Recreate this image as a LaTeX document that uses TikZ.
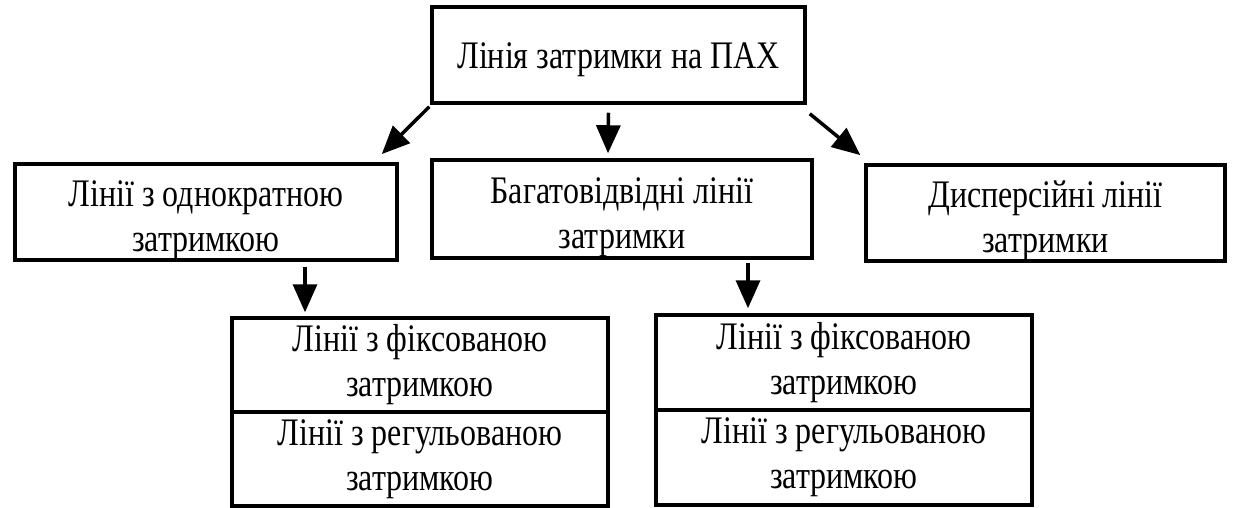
\documentclass[tikz,border=0pt]{standalone}
\usepackage{fontspec}
\setmainfont{Liberation Serif}
\newfontfamily\condserif[FakeStretch=0.82]{Liberation Serif}
\usetikzlibrary{arrows.meta,calc}
\newcommand{\lowerstrut}[1]{\rule{0pt}{#1}}
\begin{document}
\begin{tikzpicture}[x=1pt,y=-1pt,
  box/.style={draw,line width=3.5pt,align=center,inner sep=0pt,font=\condserif\fontsize{39}{45}\selectfont},
  arr/.style={line width=3.5pt,-{Triangle[length=28pt,width=24pt]}}]
\useasboundingbox (0,0) rectangle (1238,508);
\node[box,minimum width=373pt,minimum height=96pt] (top) at (618.5,55) {\lowerstrut{36pt}Лінія затримки на ПАХ};
\node[box,minimum width=382pt,minimum height=92pt] (left) at (206,212) {\lowerstrut{43pt}Лінії з однократною\\затримкою};
\node[box,minimum width=380pt,minimum height=98pt] (mid) at (622,209) {\lowerstrut{43pt}Багатовідвідні лінії\\затримки};
\node[box,minimum width=359pt,minimum height=94pt] (right) at (1045.5,213) {\lowerstrut{43pt}Дисперсійні лінії\\затримки};
\node[box,minimum width=376pt,minimum height=94pt] (bl1) at (420,365) {Лінії з фіксованою\\затримкою};
\node[box,minimum width=376pt,minimum height=94pt] (bl2) at (420,459) {Лінії з регульованою\\затримкою};
\node[box,minimum width=376pt,minimum height=95pt] (br1) at (844,362.5) {Лінії з фіксованою\\затримкою};
\node[box,minimum width=376pt,minimum height=95pt] (br2) at (844,457.5) {Лінії з регульованою\\затримкою};
\draw[arr] ($(top.south west)+(-1,2)$) -- ($(left.north east)+(-17,-8)$);
\draw[arr] ($(top.south)+(-10,8)$) -- ($(mid.north)+(-14,-5)$);
\draw[arr] ($(top.south east)+(3,9)$) -- ($(right.north west)+(-4,-8)$);
\draw[arr] ($(left.south)+(99,5)$) -- ($(bl1.north)+(-115,-4)$);
\draw[arr] ($(mid.south)+(126,3)$) -- ($(br1.north)+(-96,-5)$);
\end{tikzpicture}
\end{document}
